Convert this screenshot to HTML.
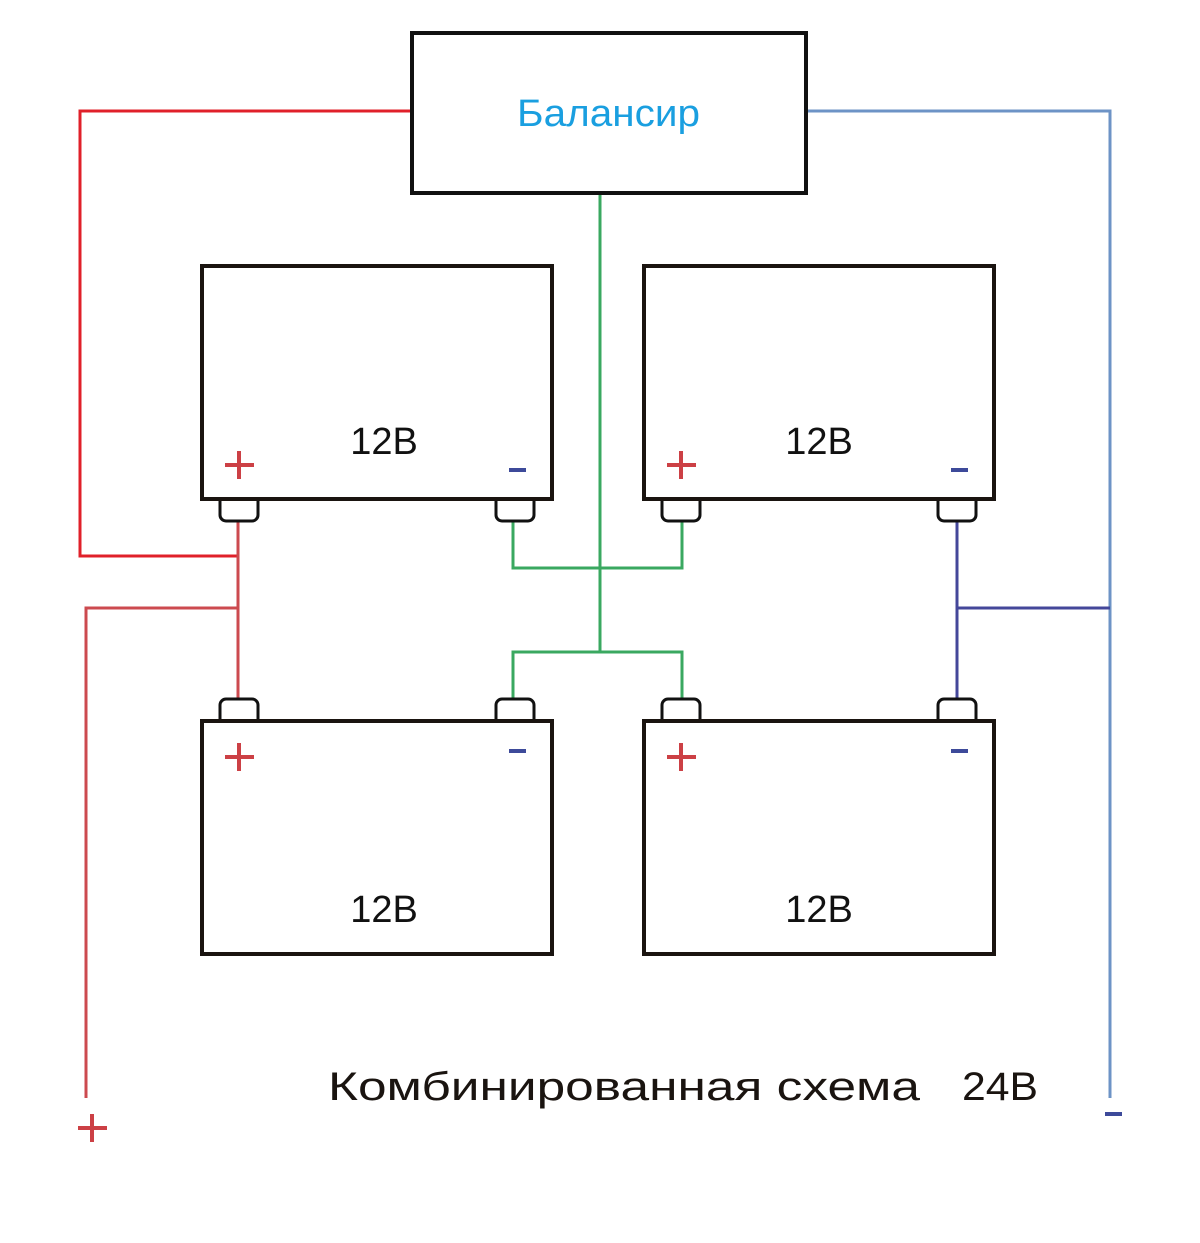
<!DOCTYPE html>
<html><head><style>
html,body{margin:0;padding:0;background:#fff;}
</style></head><body>
<svg width="1200" height="1243" viewBox="0 0 1200 1243" xmlns="http://www.w3.org/2000/svg" style="display:block">
<g fill="none" stroke-width="3">
<polyline points="411,111 80,111 80,556 238,556" stroke="#e0202a"/>
<polyline points="86,1098 86,608 238,608" stroke="#cc4a4f"/>
<line x1="238" y1="522" x2="238" y2="698" stroke="#cc4a4f"/>
<line x1="600" y1="194" x2="600" y2="652" stroke="#3aa860"/>
<polyline points="513,522 513,568 682,568 682,522" stroke="#3aa860"/>
<polyline points="513,698 513,652 682,652 682,698" stroke="#3aa860"/>
<polyline points="807,111 1110,111 1110,1098" stroke="#6d93c6"/>
<line x1="957" y1="522" x2="957" y2="698" stroke="#44479a"/>
<line x1="957" y1="608" x2="1110" y2="608" stroke="#44479a"/>
</g>
<rect x="412" y="33" width="394" height="160" fill="#fff" stroke="#111" stroke-width="4"/>
<text x="517" y="126" textLength="183" lengthAdjust="spacingAndGlyphs" font-family="Liberation Sans, DejaVu Sans, sans-serif" font-size="38" fill="#1a9fe0">Балансир</text>
<g stroke="#111" stroke-width="3" fill="#fff">
<path d="M220,500 V515 a6,6 0 0 0 6,6 H252 a6,6 0 0 0 6,-6 V500"/>
<path d="M496,500 V515 a6,6 0 0 0 6,6 H528 a6,6 0 0 0 6,-6 V500"/>
<path d="M662,500 V515 a6,6 0 0 0 6,6 H694 a6,6 0 0 0 6,-6 V500"/>
<path d="M938,500 V515 a6,6 0 0 0 6,6 H970 a6,6 0 0 0 6,-6 V500"/>
<path d="M220,720 V705 a6,6 0 0 1 6,-6 H252 a6,6 0 0 1 6,6 V720"/>
<path d="M496,720 V705 a6,6 0 0 1 6,-6 H528 a6,6 0 0 1 6,6 V720"/>
<path d="M662,720 V705 a6,6 0 0 1 6,-6 H694 a6,6 0 0 1 6,6 V720"/>
<path d="M938,720 V705 a6,6 0 0 1 6,-6 H970 a6,6 0 0 1 6,6 V720"/>
</g>
<g stroke="#1a1410" stroke-width="4" fill="#fff">
<rect x="202" y="266" width="350" height="233"/>
<rect x="644" y="266" width="350" height="233"/>
<rect x="202" y="721" width="350" height="233"/>
<rect x="644" y="721" width="350" height="233"/>
</g>
<g font-family="Liberation Sans, DejaVu Sans, sans-serif" font-size="38" fill="#111" text-anchor="middle">
<text x="384" y="454">12B</text>
<text x="819" y="454">12B</text>
<text x="384" y="922">12B</text>
<text x="819" y="922">12B</text>
</g>
<g stroke="#cc4045" stroke-width="4">
<path d="M225,465 H254 M239,451 V479"/>
<path d="M667,465 H696 M681,451 V479"/>
<path d="M225,757 H254 M239,743 V771"/>
<path d="M667,757 H696 M681,743 V771"/>
<path d="M78,1128 H107 M92,1114 V1142"/>
</g>
<g stroke="#3d4a9a" stroke-width="4">
<path d="M509,470 H526"/><path d="M951,470 H968"/>
<path d="M509,751 H526"/><path d="M951,751 H968"/>
<path d="M1105,1114 H1122"/>
</g>
<text x="328" y="1100" textLength="592" lengthAdjust="spacingAndGlyphs" font-family="Liberation Sans, DejaVu Sans, sans-serif" font-size="40" fill="#1a1410">Комбинированная схема</text>
<text x="962" y="1100" textLength="76" lengthAdjust="spacingAndGlyphs" font-family="Liberation Sans, DejaVu Sans, sans-serif" font-size="40" fill="#1a1410">24B</text>
</svg>
</body></html>
